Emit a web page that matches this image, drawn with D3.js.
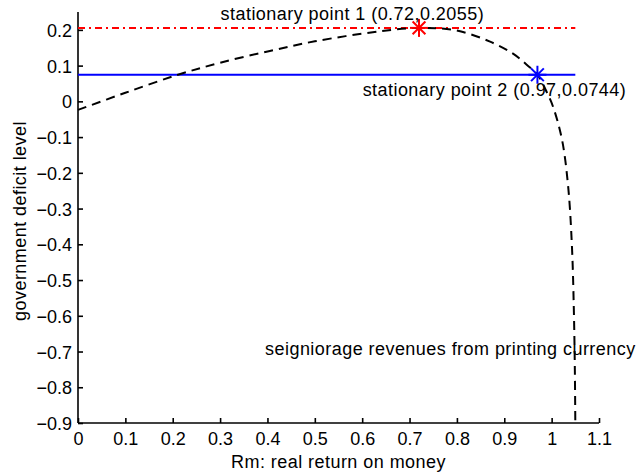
<!DOCTYPE html>
<html>
<head>
<meta charset="utf-8">
<script src="https://cdn.jsdelivr.net/npm/d3@7"></script>
<style>
  body { margin: 0; background: #fff; }
  text { font-family: "Liberation Sans", Arial, Helvetica, sans-serif; fill: #000; }
  .label { letter-spacing: 0.45px; }
</style>
</head>
<body>
<div id="chart"></div>
<script>
// seigniorage curve
var rm      = [0, 0.1, 0.211, 0.3, 0.405, 0.5, 0.638, 0.72, 0.8, 0.87, 0.92, 0.948, 0.97, 0.99, 1.003, 1.022, 1.035, 1.043, 1.047, 1.049, 1.05];
var deficit = [-0.024, 0.024, 0.0744, 0.108, 0.141, 0.168, 0.196, 0.2055, 0.198, 0.167, 0.132, 0.102, 0.0744, 0.025, -0.015, -0.108, -0.24, -0.41, -0.59, -0.75, -0.9];

// stationary points
var pointX = [0.72, 0.97];
var pointY = [0.2055, 0.0744];
var pointColors = ['#ff0000', '#0000ff'];
var pointLabels = ['stationary point 1 (0.72,0.2055)', 'stationary point 2 (0.97,0.0744)'];

var xTicks = [0, 0.1, 0.2, 0.3, 0.4, 0.5, 0.6, 0.7, 0.8, 0.9, 1, 1.1];
var yTicks = [0.2, 0.1, 0, -0.1, -0.2, -0.3, -0.4, -0.5, -0.6, -0.7, -0.8, -0.9];

var chart_width  = 640;
var chart_height = 475;
var fontSize = 18;

var svg = d3.select('#chart')
  .append('svg')
  .attr('width', chart_width)
  .attr('height', chart_height);

var x_scale = d3.scaleLinear()
  .domain([0, 1.1])
  .range([78, 599]);

var y_scale = d3.scaleLinear()
  .domain([-0.9, 0.25])
  .range([423, 12]);

function fmt(d) {
  var s = d3.format('')(+d.toFixed(2));
  return s.replace('-', '\u2212');
}

// axes (inward ticks, no box)
var xAxis = d3.axisBottom(x_scale)
  .tickValues(xTicks)
  .tickSize(-5)
  .tickPadding(9)
  .tickFormat(fmt);

var yAxis = d3.axisLeft(y_scale)
  .tickValues(yTicks)
  .tickSize(-5)
  .tickPadding(6)
  .tickFormat(fmt);

var gx = svg.append('g')
  .attr('transform', 'translate(0,' + y_scale(-0.9) + ')')
  .call(xAxis);

var gy = svg.append('g')
  .attr('transform', 'translate(' + x_scale(0) + ',0)')
  .call(yAxis);

[gx, gy].forEach(function(g) {
  g.select('.domain').attr('stroke', '#000').attr('stroke-width', 1.6);
  g.selectAll('.tick line').attr('stroke', '#000').attr('stroke-width', 1.6);
  g.selectAll('.tick text')
    .style('font-size', fontSize + 'px')
    .style('font-family', '"Liberation Sans", Arial, sans-serif')
    .attr('fill', '#000');
});
gy.select('.domain').attr('d', 'M0,' + y_scale(0.25) + 'V' + y_scale(-0.9));
gx.select('.domain').attr('d', 'M' + x_scale(0) + ',0H' + x_scale(1.1));
gy.selectAll('.tick text').attr('dy', '0.36em');

// horizontal lines through the stationary points
svg.append('line')
  .attr('x1', x_scale(0)).attr('x2', x_scale(1.05))
  .attr('y1', y_scale(pointY[1])).attr('y2', y_scale(pointY[1]))
  .attr('stroke', pointColors[1])
  .attr('stroke-width', 2);

svg.append('line')
  .attr('x1', x_scale(0)).attr('x2', x_scale(1.05))
  .attr('y1', y_scale(pointY[0])).attr('y2', y_scale(pointY[0]))
  .attr('stroke', pointColors[0])
  .attr('stroke-width', 2)
  .attr('stroke-dasharray', '7,4,2,4');

// seigniorage curve
var line = d3.line()
  .x(function(d) { return x_scale(d[0]); })
  .y(function(d) { return y_scale(d[1]); })
  .curve(d3.curveCatmullRom);

svg.append('path')
  .datum(rm.map(function(r, i) { return [r, deficit[i]]; }))
  .attr('d', line)
  .attr('fill', 'none')
  .attr('stroke', '#000')
  .attr('stroke-width', 2)
  .attr('stroke-dasharray', '9,6');

// star markers
var arm = 9, diag = 6.4;
pointX.forEach(function(px, i) {
  var cx = x_scale(px), cy = y_scale(pointY[i]);
  var g = svg.append('g').attr('stroke', pointColors[i]).attr('stroke-width', 2);
  g.append('line').attr('x1', cx - arm).attr('x2', cx + arm).attr('y1', cy).attr('y2', cy);
  g.append('line').attr('x1', cx).attr('x2', cx).attr('y1', cy - arm).attr('y2', cy + arm);
  g.append('line').attr('x1', cx - diag).attr('x2', cx + diag).attr('y1', cy - diag).attr('y2', cy + diag);
  g.append('line').attr('x1', cx - diag).attr('x2', cx + diag).attr('y1', cy + diag).attr('y2', cy - diag);
});

// annotations
svg.append('text')
  .attr('class', 'label')
  .attr('x', x_scale(0.301)).attr('y', y_scale(0.228))
  .style('font-size', fontSize + 'px')
  .text(pointLabels[0]);

svg.append('text')
  .attr('class', 'label')
  .attr('x', x_scale(0.601)).attr('y', y_scale(0.015))
  .style('font-size', fontSize + 'px')
  .text(pointLabels[1]);

svg.append('text')
  .attr('class', 'label')
  .attr('x', x_scale(0.395)).attr('y', y_scale(-0.71))
  .style('font-size', fontSize + 'px')
  .text('seigniorage revenues from printing currency');

// axis labels
svg.append('text')
  .attr('class', 'label')
  .attr('x', (x_scale(0) + x_scale(1.1)) / 2)
  .attr('y', 468)
  .attr('text-anchor', 'middle')
  .style('font-size', fontSize + 'px')
  .text('Rm: real return on money');

svg.append('text')
  .attr('class', 'label')
  .attr('transform', 'translate(26,221) rotate(-90)')
  .attr('text-anchor', 'middle')
  .style('font-size', fontSize + 'px')
  .text('government deficit level');
</script>
</body>
</html>
